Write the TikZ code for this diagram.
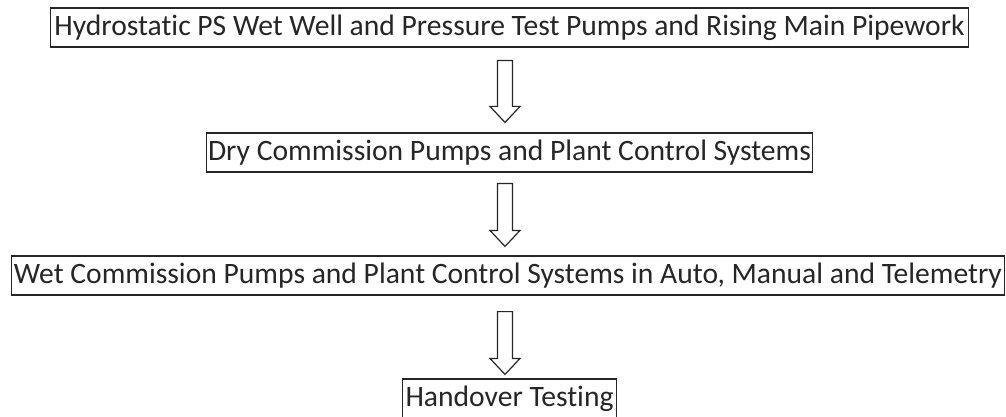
\documentclass[tikz,border=0pt]{standalone}
\usepackage{fontspec}
\setmainfont{Carlito}[Ligatures=NoCommon]
\usetikzlibrary{calc}

\begin{document}
\begin{tikzpicture}[x=0.75pt,y=-0.75pt,
  stagebox/.style={draw=black!85,line width=0.9pt,inner sep=0pt,minimum height=29.25pt,
    text=black!85,font=\fontsize{22.2}{26}\selectfont},
  blockarrow/.style 2 args={draw=black!85,line width=0.9pt,fill=white,
    to path={let \p1=($(\tikztostart)+(0,#1)$), \p2=($(\tikztotarget)+(0,-#2)$) in
      (\x1-5.6pt,\y1) -- (\x1+5.6pt,\y1) -- (\x1+5.6pt,\y2+12pt) -- (\x1+11.3pt,\y2+12pt)
      -- (\x1,\y2) -- (\x1-11.3pt,\y2+12pt) -- (\x1-5.6pt,\y2+12pt) -- cycle}}]
\useasboundingbox (0,0) rectangle (1006,417);
\node [stagebox,minimum width=689pt] (hydro) at (509.5,27.5) {Hydrostatic PS Wet Well and Pressure Test Pumps and Rising Main Pipework};
\node [stagebox,minimum width=455pt] (dry) at (509.5,152.5) {Dry Commission Pumps and Plant Control Systems};
\node [stagebox,minimum width=745pt] (wet) at (508,275.5) {Wet Commission Pumps and Plant Control Systems in Auto, Manual and Telemetry};
\node [stagebox,minimum width=160pt] (handover) at (509.5,398.5) {Handover Testing};
\coordinate (axis) at (505,0);
\draw [blockarrow={13}{10}] (hydro.south -| axis) to (dry.north -| axis);
\draw [blockarrow={11}{9}] (dry.south -| axis) to (wet.north -| axis);
\draw [blockarrow={16}{4}] (wet.south -| axis) to (handover.north -| axis);
\end{tikzpicture}
\end{document}
